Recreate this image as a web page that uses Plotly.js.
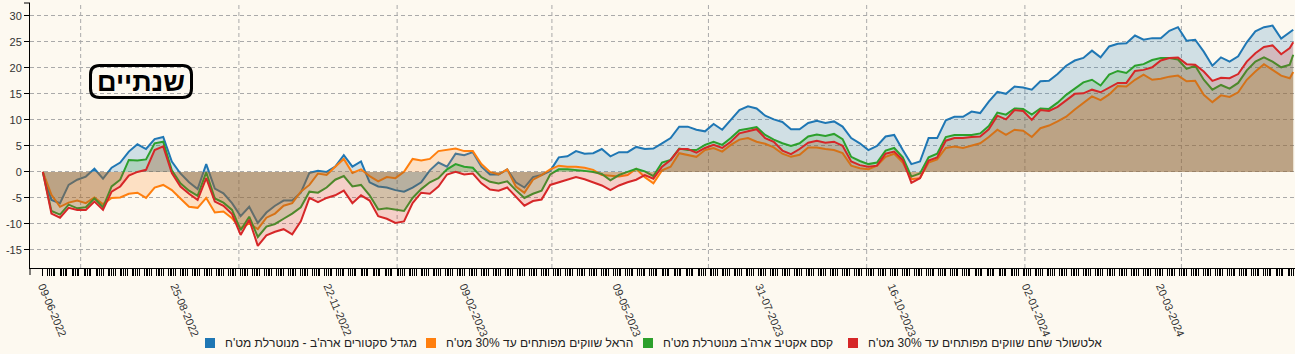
<!DOCTYPE html>
<html>
<head>
<meta charset="utf-8">
<script src="https://cdn.plot.ly/plotly-3.0.1.min.js"></script>
<style>html,body{margin:0;padding:0;background:#fdf9f0;}#chart{width:1295px;height:354px;}</style>
</head>
<body>
<div id="chart"></div>
<script>
const dates = ['2022-06-09','2022-06-14','2022-06-19','2022-06-24','2022-06-29','2022-07-04','2022-07-09','2022-07-14','2022-07-19','2022-07-24','2022-07-29','2022-08-03','2022-08-08','2022-08-13','2022-08-18','2022-08-23','2022-08-28','2022-09-02','2022-09-07','2022-09-12','2022-09-17','2022-09-22','2022-09-27','2022-10-02','2022-10-07','2022-10-12','2022-10-17','2022-10-22','2022-10-27','2022-11-01','2022-11-06','2022-11-11','2022-11-16','2022-11-21','2022-11-26','2022-12-01','2022-12-06','2022-12-11','2022-12-16','2022-12-21','2022-12-26','2022-12-31','2023-01-05','2023-01-10','2023-01-15','2023-01-20','2023-01-25','2023-01-30','2023-02-04','2023-02-09','2023-02-14','2023-02-19','2023-02-24','2023-03-01','2023-03-06','2023-03-11','2023-03-16','2023-03-21','2023-03-26','2023-03-31','2023-04-05','2023-04-10','2023-04-15','2023-04-20','2023-04-25','2023-04-30','2023-05-05','2023-05-10','2023-05-15','2023-05-20','2023-05-25','2023-05-30','2023-06-04','2023-06-09','2023-06-14','2023-06-19','2023-06-24','2023-06-29','2023-07-04','2023-07-09','2023-07-14','2023-07-19','2023-07-24','2023-07-29','2023-08-03','2023-08-08','2023-08-13','2023-08-18','2023-08-23','2023-08-28','2023-09-02','2023-09-07','2023-09-12','2023-09-17','2023-09-22','2023-09-27','2023-10-02','2023-10-07','2023-10-12','2023-10-17','2023-10-22','2023-10-27','2023-11-01','2023-11-06','2023-11-11','2023-11-16','2023-11-21','2023-11-26','2023-12-01','2023-12-06','2023-12-11','2023-12-16','2023-12-21','2023-12-26','2023-12-31','2024-01-05','2024-01-10','2024-01-15','2024-01-20','2024-01-25','2024-01-30','2024-02-04','2024-02-09','2024-02-14','2024-02-19','2024-02-24','2024-02-29','2024-03-05','2024-03-10','2024-03-15','2024-03-20','2024-03-25','2024-03-30','2024-04-04','2024-04-09','2024-04-14','2024-04-19','2024-04-24','2024-04-29','2024-05-04','2024-05-09','2024-05-14','2024-05-19','2024-05-24','2024-05-29','2024-06-03','2024-06-05'];

const migdal = [0,-5.4,-6.0,-2.5,-1.5,-0.9,0.6,-1.3,0.8,1.8,
3.9,5.3,4.4,6.3,6.7,2.0,-0.3,-2.0,-3.3,1.5,
-3.2,-4.1,-6.0,-8.5,-6.7,-9.8,-7.8,-6.5,-5.5,-5.5,
-4.0,-0.2,0.2,0.0,1.0,3.2,1.0,2.0,-2.0,-2.8,
-3.0,-3.5,-3.8,-3.0,-2.0,0.3,1.8,1.0,3.5,3.2,
3.8,1.0,-0.5,-0.5,0.5,-2.0,-3.0,-1.0,-0.6,0.2,
2.8,3.0,4.0,3.5,3.6,4.4,3.0,3.8,3.8,4.8,
4.4,4.5,5.5,6.5,8.7,8.7,8.1,7.8,9.2,8.1,
10.0,11.9,12.6,12.2,10.8,10.1,9.6,8.2,8.2,9.4,
9.8,9.4,9.7,8.7,6.5,5.5,4.2,5.0,6.8,7.1,
4.2,1.5,2.0,6.5,6.5,9.9,10.6,10.6,11.6,11.3,
13.5,15.4,15.0,16.4,16.2,15.8,17.4,17.5,18.8,20.4,
21.4,21.9,23.3,22.0,24.1,24.6,24.7,26.2,25.4,25.7,
25.7,27.1,27.8,25.2,25.4,23.1,20.4,22.0,21.2,22.2,
24.9,27.0,27.8,28.1,25.6,26.7,27.3];

const harel = [0,-4.4,-6.7,-5.9,-5.5,-6.0,-4.9,-6.2,-5.0,-4.9,
-4.2,-4.0,-5.0,-3.0,-2.5,-3.5,-5.1,-6.7,-6.9,-5.0,
-7.8,-7.6,-8.9,-10.8,-9.9,-11.0,-8.8,-8.0,-6.5,-6.0,
-3.8,-2.5,-0.3,-0.6,1.0,2.5,-0.2,0.5,-0.8,-1.8,
-1.0,-1.2,0.0,2.5,2.2,2.5,4.0,4.2,4.5,4.0,
4.0,1.5,0.0,-0.5,0.5,-2.8,-4.0,-1.5,-0.6,0.5,
1.2,1.0,1.0,0.8,0.4,-0.6,-0.8,-0.9,-0.6,0.6,
-1.0,-2.2,0.3,1.0,3.6,3.3,2.9,4.2,4.6,3.9,
5.2,6.2,6.5,5.8,5.4,4.7,3.5,2.9,3.3,4.7,
4.7,4.4,4.2,3.6,1.2,0.7,0.5,1.2,2.9,3.5,
1.8,-1.4,-1.2,1.8,2.4,4.6,4.9,4.6,5.0,5.5,
6.7,8.1,7.1,8.1,7.9,6.7,8.4,8.9,9.7,10.6,
12.0,13.2,14.5,13.8,14.9,16.5,16.4,17.7,18.7,17.7,
17.9,18.3,18.5,17.4,17.5,14.8,13.4,14.7,14.4,15.3,
17.7,19.3,20.7,19.6,18.5,18.0,19.2];

const kesem = [0,-7.5,-8.2,-6.3,-7.0,-6.8,-5.1,-6.8,-2.8,-1.5,
2.3,2.2,2.4,5.5,5.8,0.3,-2.2,-3.6,-4.6,-0.1,
-5.1,-5.9,-7.3,-11.2,-8.6,-12.5,-10.5,-10.0,-9.0,-8.0,
-6.8,-3.8,-4.0,-3.0,-1.5,-0.8,-2.8,-2.5,-4.5,-7.2,
-7.0,-7.3,-7.5,-5.0,-3.3,-2.0,-1.2,0.5,1.5,1.0,
0.8,-1.0,-1.9,-2.2,-1.8,-3.5,-5.0,-4.2,-3.6,-0.5,
0.5,0.5,0.4,0.2,0.0,-0.4,-1.6,-0.6,0.0,0.6,
0.1,-0.8,1.8,2.3,4.5,4.2,4.2,5.2,5.8,5.2,
6.5,8.0,8.3,8.6,7.1,6.2,5.5,5.0,5.5,6.8,
7.2,6.9,7.3,6.3,2.9,2.1,1.5,1.8,4.1,4.6,
2.8,-0.9,-0.3,2.8,3.5,6.7,7.1,7.1,7.1,7.4,
8.8,11.4,11.0,12.2,12.1,11.0,12.2,12.1,13.3,14.8,
16.0,17.2,17.7,16.6,18.7,19.4,19.0,20.4,20.7,21.5,
21.9,21.9,21.6,19.8,20.4,17.7,15.8,16.7,16.0,17.1,
19.5,21.2,22.0,21.2,20.1,20.6,22.5];

const altshuler = [0,-8.0,-8.8,-6.9,-7.3,-7.3,-5.7,-7.3,-3.8,-2.8,
-0.7,0.0,0.4,4.2,4.9,-0.2,-2.8,-4.2,-5.4,-1.2,
-5.7,-6.5,-8.1,-12.1,-9.2,-14.2,-12.2,-11.5,-11.0,-12.0,
-9.5,-5.0,-5.8,-5.0,-4.5,-3.6,-6.0,-4.5,-5.5,-8.5,
-9.0,-9.8,-9.5,-6.0,-4.0,-4.2,-2.8,-0.5,0.0,-0.5,
-0.3,-2.2,-3.4,-3.6,-3.0,-4.8,-6.5,-5.6,-5.3,-2.5,
-2.0,-1.5,-1.0,-1.4,-2.0,-2.6,-3.5,-2.6,-2.0,-1.5,
-0.6,-1.3,1.0,2.3,4.4,4.4,3.7,4.6,5.2,4.6,
5.8,7.4,7.8,8.2,6.5,5.8,4.1,3.4,4.4,5.6,
6.0,5.6,5.8,5.0,2.0,1.3,1.0,1.2,3.5,3.9,
2.3,-2.1,-1.2,2.2,2.8,6.0,6.5,6.5,6.7,6.8,
8.2,10.8,10.1,11.9,11.7,10.0,11.9,11.7,12.5,13.8,
15.0,15.1,15.8,15.3,16.2,17.1,17.1,19.4,19.6,20.1,
21.4,21.9,22.0,20.7,20.6,19.3,17.5,18.1,18.0,18.8,
21.2,22.8,24.0,24.3,22.6,23.8,24.9];

const seriesNames = ["מגדל סקטורים ארה'ב - מנוטרלת מט'ח", "הראל שווקים מפותחים עד 30% מט'ח", "קסם אקטיב ארה'ב מנוטרלת מט'ח", "אלטשולר שחם שווקים מפותחים עד 30% מט'ח"];
const seriesColors = ['#1f77b4', '#ff7f0e', '#2ca02c', '#d62728'];
const seriesFills = ['rgba(31,119,180,0.2)', 'rgba(255,127,14,0.2)', 'rgba(44,160,44,0.2)', 'rgba(214,39,40,0.2)'];
const seriesValues = [migdal, harel, kesem, altshuler];

const labelDates = ['2022-06-09','2022-08-25','2022-11-22','2023-02-09','2023-05-09','2023-07-31','2023-10-16','2024-01-02','2024-03-20'];
const labelTexts = ['09-06-2022','25-08-2022','22-11-2022','09-02-2023','09-05-2023','31-07-2023','16-10-2023','02-01-2024','20-03-2024'];
const quarterLines = ['2022-07-01','2022-10-01','2023-01-01','2023-04-01','2023-07-01','2023-10-01','2024-01-01','2024-04-01'];
const yTickVals = [-15,-10,-5,0,5,10,15,20,25,30];
const yTickText = ['-15','-10','-5','0','5','10','15','20','25','30'];
const badgeText = 'שנתיים';

// layout helpers (pixel positions of the page converted to paper fractions)
const PLOT_L = 30, PLOT_W = 1265, PLOT_T = 3, PLOT_H = 265;
const px2paperX = px => (px - PLOT_L) / PLOT_W;
const px2paperY = py => 1 - (py - PLOT_T) / PLOT_H;
const legendSymbolPx = [210, 431, 648, 853];
const legendRowPx = 343;

// trading days (Sun-Thu) for the small axis ticks
const tradingTicks = [];
for (let d = new Date(Date.UTC(2022,5,9)); d.getTime() <= Date.UTC(2024,5,5); d.setUTCDate(d.getUTCDate()+1)) {
  const wd = d.getUTCDay();
  if (wd !== 5 && wd !== 6) tradingTicks.push(d.toISOString().slice(0,10));
}

const traces = seriesValues.map((vals, k) => ({
  type: 'scatter', mode: 'lines', x: dates, y: vals, name: seriesNames[k],
  fill: 'tozeroy', fillcolor: seriesFills[k],
  line: {color: seriesColors[k], width: 2},
  showlegend: false, hoverinfo: 'skip'
}));

const shapes = quarterLines.map(q => ({
  type: 'line', xref: 'x', yref: 'paper', x0: q, x1: q, y0: 0, y1: 1,
  line: {color: '#aaaaaa', width: 1, dash: '4px,3px'}, layer: 'below'
}));
// outer ticks at the ends of the axes
shapes.push({type: 'line', xref: 'paper', yref: 'paper', x0: px2paperX(24), x1: 0, y0: 1, y1: 1, line: {color: '#000', width: 1}});
shapes.push({type: 'line', xref: 'paper', yref: 'paper', x0: 0, x1: 0, y0: 0, y1: px2paperY(275), line: {color: '#000', width: 1}});
shapes.push({
  type: 'path', xref: 'paper', yref: 'paper', xsizemode: 'pixel', ysizemode: 'pixel',
  xanchor: px2paperX(141), yanchor: px2paperY(81.5),
  path: 'M -41.5,-16 L 41.5,-16 Q 50.5,-16 50.5,-7 L 50.5,7 Q 50.5,16 41.5,16 L -41.5,16 Q -50.5,16 -50.5,7 L -50.5,-7 Q -50.5,-16 -41.5,-16 Z',
  line: {color: '#000', width: 3}, fillcolor: 'rgba(0,0,0,0)'
});

const annotations = [{
  xref: 'paper', yref: 'paper', x: px2paperX(141), y: px2paperY(81.5), xanchor: 'center', yanchor: 'middle',
  text: '<b>' + badgeText + '</b>', showarrow: false,
  font: {size: 27, color: '#000', family: 'Arial, "Liberation Sans", sans-serif'}
}];

// legend: colour square + name
seriesNames.forEach((nm, k) => {
  shapes.push({
    type: 'rect', xref: 'paper', yref: 'paper', xsizemode: 'pixel', ysizemode: 'pixel',
    xanchor: px2paperX(legendSymbolPx[k]), yanchor: px2paperY(legendRowPx),
    x0: -5, x1: 5, y0: -5, y1: 5,
    line: {width: 0}, fillcolor: seriesColors[k]
  });
  annotations.push({
    xref: 'paper', yref: 'paper', x: px2paperX(legendSymbolPx[k] + 13), y: px2paperY(legendRowPx),
    xanchor: 'left', yanchor: 'middle', showarrow: false, text: nm,
    font: {size: 12, color: '#222'}
  });
});

const layout = {
  width: 1295, height: 354,
  margin: {l: PLOT_L, r: 1295 - PLOT_L - PLOT_W, t: PLOT_T, b: 354 - PLOT_T - PLOT_H, pad: 0},
  paper_bgcolor: '#fdf9f0', plot_bgcolor: '#fdf9f0',
  font: {family: 'Arial, "Liberation Sans", sans-serif', size: 11, color: '#333'},
  showlegend: false,
  xaxis: {
    type: 'date', range: ['2022-06-01 13:00', '2024-06-06 01:00'],
    tickmode: 'array', tickvals: labelDates, ticktext: labelTexts, tickangle: 67,
    ticks: 'outside', ticklen: 7, tickwidth: 1, tickcolor: '#000',
    showline: true, linecolor: '#000', linewidth: 1,
    showgrid: false, zeroline: false,
    tickfont: {size: 11, color: '#333'},
    minor: {tickmode: 'array', tickvals: tradingTicks, ticks: 'outside', ticklen: 7, tickwidth: 1, tickcolor: '#000', showgrid: false}
  },
  yaxis: {
    range: [-18.46, 32.45],
    tickmode: 'array', tickvals: yTickVals, ticktext: yTickText,
    ticks: 'outside', ticklen: 5, tickwidth: 1, tickcolor: '#000',
    showline: true, linecolor: '#000', linewidth: 1,
    showgrid: true, gridcolor: '#aaaaaa', griddash: '4px,3px', gridwidth: 1,
    zeroline: false,
    tickfont: {size: 11, color: '#333'}
  },
  shapes: shapes,
  annotations: annotations
};

Plotly.newPlot('chart', traces, layout, {displayModeBar: false, staticPlot: true});
</script>
</body>
</html>
